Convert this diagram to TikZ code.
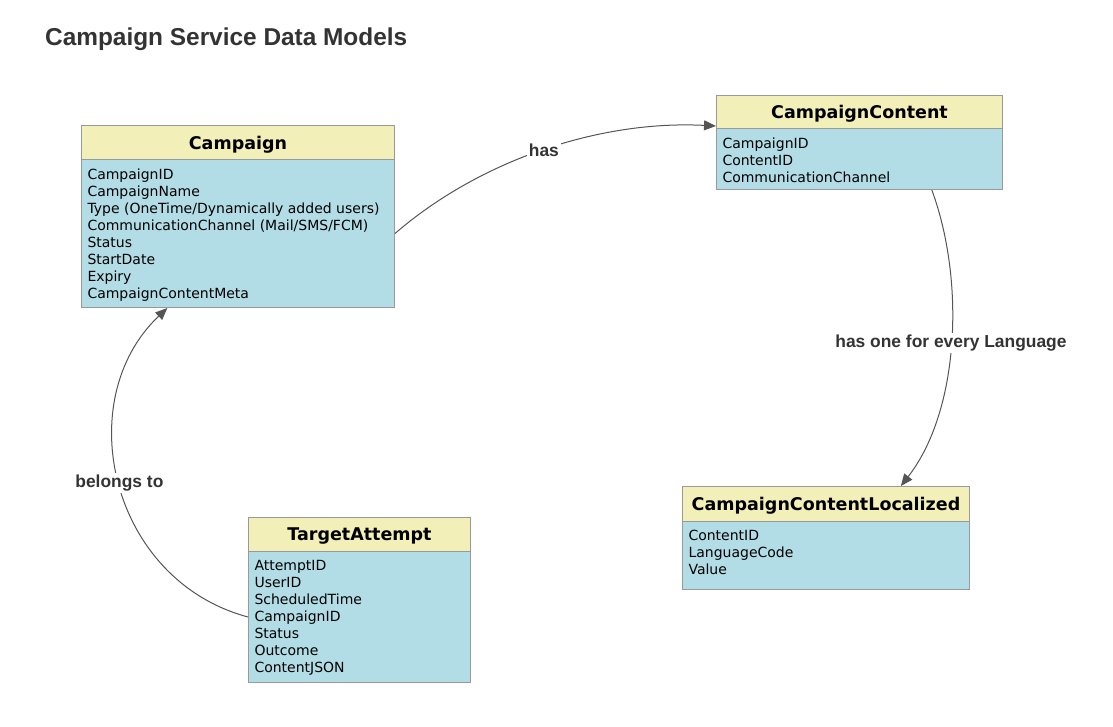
\documentclass[tikz,border=0pt]{standalone}
\usepackage{fontspec}
\setmainfont{DejaVu Sans}
\newfontfamily\arialfont{Liberation Sans}
\usetikzlibrary{arrows.meta,calc}
\definecolor{hdr}{HTML}{F3EFB8}
\definecolor{bdy}{HTML}{B3DDE6}
\definecolor{edgegray}{HTML}{999999}
\definecolor{conn}{HTML}{555555}
\definecolor{ttl}{HTML}{333333}
\newcommand{\flist}[3]{\parbox[t][#2][t]{#1}{\vspace*{5pt}#3}}
\newcommand{\htxt}[1]{\raisebox{-2pt}[\height][\depth]{#1}}
\begin{document}
\begin{tikzpicture}[x=1pt,y=-1pt,
  hdrbox/.style={draw=edgegray, line width=1pt, fill=hdr, anchor=north west, inner sep=0pt,
    font=\fontsize{17.5}{20}\selectfont\bfseries, text=black},
  bdybox/.style={draw=edgegray, line width=1pt, fill=bdy, anchor=north west, inner xsep=6pt, inner ysep=4pt,
    font=\fontsize{14}{17}\selectfont, text=black},
  connector/.style={draw=conn, line width=1pt, -{Triangle[length=12pt,width=10pt]}},
  lbl/.style={fill=white, inner sep=2pt, text=ttl, font=\arialfont\fontsize{17.4}{20}\selectfont\bfseries}
]
\useasboundingbox (0,0) rectangle (1113,727);
\node[anchor=west, text=ttl, font=\arialfont\fontsize{24.4}{28}\selectfont\bfseries, inner sep=0pt] (title) at (45,39) {Campaign Service Data Models};

% Campaign
\node[hdrbox, minimum width=313pt, minimum height=34pt] (chead) at (81,125) {\htxt{Campaign}};
\node[bdybox] (cbody) at (81,159) {\flist{301pt}{140pt}{CampaignID\\CampaignName\\Type (OneTime/Dynamically added users)\\CommunicationChannel (Mail/SMS/FCM)\\Status\\StartDate\\Expiry\\CampaignContentMeta}};

% CampaignContent
\node[hdrbox, minimum width=286pt, minimum height=33pt] (cchead) at (716,95) {\htxt{CampaignContent}};
\node[bdybox] (ccbody) at (716,128) {\flist{274pt}{53pt}{CampaignID\\ContentID\\CommunicationChannel}};

% CampaignContentLocalized
\node[hdrbox, minimum width=287pt, minimum height=35pt] (lochead) at (682,486) {\htxt{CampaignContentLocalized}};
\node[bdybox] (locbody) at (682,521) {\flist{275pt}{60pt}{ContentID\\LanguageCode\\Value}};

% TargetAttempt
\node[hdrbox, minimum width=222pt, minimum height=34pt] (tahead) at (248,517) {\htxt{TargetAttempt}};
\node[bdybox] (tabody) at (248,551) {\flist{210pt}{123pt}{AttemptID\\UserID\\ScheduledTime\\CampaignID\\Status\\Outcome\\ContentJSON}};

% connectors
\draw[connector] (cbody.east) .. controls (480,160) and (600,120) .. ($(cchead.south west)+(0,-3)$)
  node[lbl, pos=0.5] (lhas) {has};
\draw[connector] ($(ccbody.south west)!0.752!(ccbody.south east)$) .. controls (965,280) and (960,410) .. ($(lochead.north west)!0.76!(lochead.north east)$)
  node[lbl, pos=0.5] (llang) {has one for every Language};
\draw[connector] (tabody.west) .. controls (110,580) and (70,400) .. ($(cbody.south west)!0.275!(cbody.south east)$)
  node[lbl, pos=0.5] (lbel) {belongs to};
\end{tikzpicture}
\end{document}
